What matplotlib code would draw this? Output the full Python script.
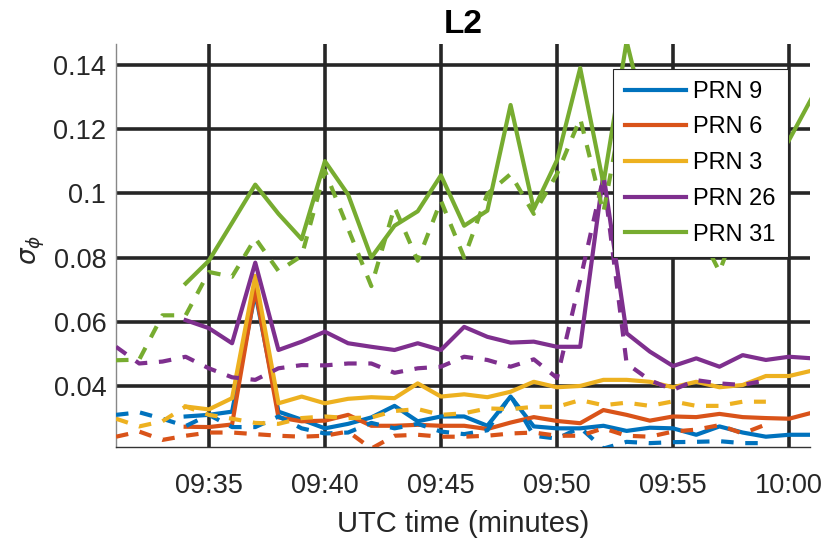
import numpy as np
import matplotlib
matplotlib.use('Agg')
import matplotlib.pyplot as plt

plt.rcParams['font.family'] = ['Liberation Sans', 'DejaVu Sans']

nan = np.nan

# minutes after 09:00 UTC
t = np.arange(31, 62)

tick_pos = [35, 40, 45, 50, 55, 60]
tick_lab = ['09:35', '09:40', '09:45', '09:50', '09:55', '10:00']
ytick_pos = [0.04, 0.06, 0.08, 0.1, 0.12, 0.14]
ytick_lab = ['0.04', '0.06', '0.08', '0.1', '0.12', '0.14']

prn = ['PRN 9', 'PRN 6', 'PRN 3', 'PRN 26', 'PRN 31']
colors = ['#0072BD', '#D95319', '#EDB120', '#7E2F8E', '#77AC30']

# solid lines (t = 31..61)
prn9_solid = [nan, nan, nan, 0.0305, 0.031, 0.032, 0.069, 0.032, 0.0295, 0.0268,
              0.0282, 0.0302, 0.0338, 0.029, 0.0305, 0.0305, 0.0276, 0.0367, 0.0274, 0.0268,
              0.0268, 0.0276, 0.026, 0.027, 0.0268, 0.0248, 0.0274, 0.0255, 0.0242, 0.0248, 0.0248]
prn6_solid = [nan, nan, nan, 0.0273, 0.0272, 0.028, 0.0702, 0.0302, 0.029, 0.0292,
              0.031, 0.0276, 0.0276, 0.0279, 0.0276, 0.0276, 0.0266, 0.0286, 0.0303, 0.0291,
              0.0284, 0.0325, 0.031, 0.0292, 0.0305, 0.0303, 0.0313, 0.0303, 0.03, 0.0298, 0.0317]
prn3_solid = [nan, nan, nan, 0.0336, 0.0327, 0.0362, 0.0743, 0.0346, 0.0367, 0.0346,
              0.036, 0.0365, 0.0362, 0.0408, 0.0367, 0.0374, 0.0365, 0.0382, 0.0413, 0.0396,
              0.04, 0.0419, 0.0419, 0.0413, 0.0396, 0.0413, 0.0396, 0.0403, 0.0431, 0.0431, 0.0448]
prn26_solid = [nan, nan, nan, 0.0605, 0.058, 0.0533, 0.0784, 0.0512, 0.0538, 0.0569,
               0.0533, 0.0522, 0.0512, 0.0533, 0.0512, 0.0584, 0.0553, 0.0535, 0.0538, 0.0522,
               0.0522, 0.106, 0.0564, 0.0507, 0.0462, 0.0486, 0.046, 0.0496, 0.0481, 0.0491, 0.0486]
prn31_solid = [nan, nan, nan, 0.0719, 0.079, 0.0908, 0.1027, 0.0936, 0.0857, 0.110,
               0.0996, 0.080, 0.0899, 0.0944, 0.1056, 0.0899, 0.0946, 0.1275, 0.0951, 0.1103,
               0.139, 0.103, 0.1473, 0.118, 0.112, 0.122, 0.11, 0.118, 0.105, 0.1166, 0.130]

# dashed lines (t = 31..59)
prn9_dash = [0.031, 0.0318, 0.0298, 0.0275, 0.031, 0.0272, 0.0272, 0.0305, 0.0268, 0.0252,
             0.0255, 0.0285, 0.0268, 0.0282, 0.0258, 0.025, 0.0262, 0.037, 0.0245, 0.0236,
             0.027, 0.0205, 0.0226, 0.0222, 0.0225, 0.0226, 0.0228, 0.0222, 0.0222, nan, nan]
prn6_dash = [0.0242, 0.0258, 0.0232, 0.0245, 0.0255, 0.0255, 0.025, 0.0245, 0.0242, 0.0245,
             0.0258, 0.0205, 0.0245, 0.0248, 0.0242, 0.0242, 0.0245, 0.0252, 0.0255, 0.0245,
             0.0245, 0.0268, 0.0245, 0.0242, 0.0258, 0.0264, 0.0278, 0.0252, 0.028, nan, nan]
prn3_dash = [0.0298, 0.0274, 0.029, 0.0336, 0.031, 0.0298, 0.0285, 0.0282, 0.030, 0.0305,
             0.030, 0.0302, 0.0322, 0.0328, 0.031, 0.0315, 0.033, 0.0328, 0.0335, 0.0335,
             0.0356, 0.034, 0.0348, 0.0338, 0.0352, 0.0338, 0.0338, 0.0351, 0.0351, nan, nan]
prn26_dash = [0.0522, 0.047, 0.0476, 0.0491, 0.0455, 0.0427, 0.0419, 0.0455, 0.0465, 0.0464,
              0.047, 0.047, 0.0441, 0.0455, 0.046, 0.0491, 0.0481, 0.046, 0.0483, 0.0425,
              0.073, 0.105, 0.047, 0.0418, 0.0388, 0.0418, 0.0408, 0.0403, 0.0418, nan, nan]
prn31_dash = [0.048, 0.0482, 0.062, 0.062, 0.0755, 0.074, 0.086, 0.0758, 0.0805, 0.107,
              0.089, 0.0711, 0.0957, 0.079, 0.0977, 0.080, 0.0998, 0.106, 0.0936, 0.106,
              0.1233, 0.094, 0.133, 0.115, 0.10, 0.09, 0.0756, 0.095, 0.10, nan, nan]

solid = [prn9_solid, prn6_solid, prn3_solid, prn26_solid, prn31_solid]
dashed = [prn9_dash, prn6_dash, prn3_dash, prn26_dash, prn31_dash]

fig = plt.figure(figsize=(8.31, 5.41), dpi=100)
ax = fig.add_axes([0.1396, 0.1738, 0.8351, 0.7449])

lw = 3.0
for y, c, name in zip(solid, colors, prn):
    ax.plot(t, y, color=c, lw=lw, label=name, zorder=3)
for y, c in zip(dashed, colors):
    ax.plot(t, y, color=c, lw=lw, ls=(0, (3.0, 2.8)), zorder=3)

ax.set_xlim(31, 60.9)
ax.set_ylim(0.021, 0.1465)
ax.set_xticks(tick_pos)
ax.set_xticklabels(tick_lab)
ax.set_yticks(ytick_pos)
ax.set_yticklabels(ytick_lab)
ax.tick_params(axis='both', length=0, labelsize=19.5, colors='#262626')
ax.tick_params(axis='x', pad=19)
ax.tick_params(axis='y', pad=7)

ax.grid(True, color='#262626', lw=2.6, zorder=1)
ax.set_axisbelow(True)
for s in ['top', 'right']:
    ax.spines[s].set_visible(False)
ax.spines['left'].set_color('#888888')
ax.spines['bottom'].set_color('#333333')
ax.spines['left'].set_linewidth(1.0)
ax.spines['bottom'].set_linewidth(1.0)

ax.set_xlabel('UTC time (minutes)', fontsize=21, color='#262626', labelpad=8)
ax.set_ylabel(r'$\sigma_{\phi}$', fontsize=19, color='#262626')
ax.yaxis.set_label_coords(-0.1, 0.49)
ax.set_title('L2', fontsize=24, fontweight='bold', pad=8)

leg = ax.legend(loc='upper right', bbox_to_anchor=(0.968, 0.938), borderaxespad=0,
                fontsize=17, handlelength=2.6, handletextpad=0.3, labelspacing=0.58,
                borderpad=0.5, fancybox=False, framealpha=1, edgecolor='#262626')
leg.get_frame().set_linewidth(0.8)
leg.set_zorder(5)

fig.savefig('out.png', dpi=100)
